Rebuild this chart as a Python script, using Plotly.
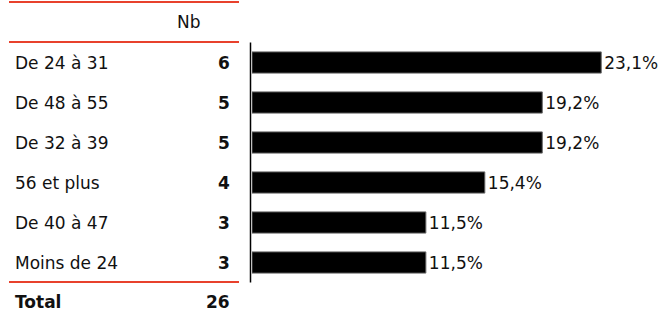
import plotly.graph_objects as go

categories = ["De 24 à 31", "De 48 à 55", "De 32 à 39", "56 et plus", "De 40 à 47", "Moins de 24"]
counts = [6, 5, 5, 4, 3, 3]
percents = [23.1, 19.2, 19.2, 15.4, 11.5, 11.5]
pct_labels = ["23,1%", "19,2%", "19,2%", "15,4%", "11,5%", "11,5%"]
total_label = "Total"
total_count = 26
header = "Nb"

W, H = 667, 316
FONT = "DejaVu Sans"
FS = 17
RED = "#e8412c"
INK = "#111111"

def py(p):  # pixel y -> paper y
    return 1 - p / H

def px(p):
    return p / W

top_px, bot_px = 42.5, 282.5
fig = go.Figure()
fig.add_trace(go.Bar(
    y=categories, x=percents, orientation="h",
    marker=dict(color="black", line=dict(color="#666666", width=1)),
    width=0.53,
    text=pct_labels, textposition="outside", cliponaxis=False,
    textfont=dict(family=FONT, size=FS, color=INK),
    hoverinfo="skip",
))

fig.update_layout(
    width=W, height=H, margin=dict(l=0, r=0, t=0, b=0),
    paper_bgcolor="white", plot_bgcolor="white", showlegend=False,
    xaxis=dict(domain=[px(252), 1], range=[0, 27.45], visible=False),
    yaxis=dict(domain=[py(bot_px), py(top_px)], categoryorder="array",
               categoryarray=categories[::-1], visible=False),
    uniformtext=dict(minsize=FS, mode="show"),
)

# axis line
fig.add_shape(type="line", xref="paper", yref="paper",
              x0=px(250.5), x1=px(250.5), y0=py(top_px), y1=py(bot_px),
              line=dict(color="black", width=1.5))
# red rules
for yy in [2, 42, 282]:
    fig.add_shape(type="line", xref="paper", yref="paper",
                  x0=px(9), x1=px(239), y0=py(yy), y1=py(yy),
                  line=dict(color=RED, width=2))

fig.add_annotation(x=px(189), y=py(22), xref="paper", yref="paper", text=header,
                   showarrow=False, xanchor="center", yanchor="middle",
                   font=dict(family=FONT, size=FS, color=INK))

for cat, n in zip(categories, counts):
    fig.add_annotation(x=px(13), y=cat, xref="paper", yref="y", text=cat,
                       showarrow=False, xanchor="left", yanchor="middle",
                       font=dict(family=FONT, size=FS, color=INK))
    fig.add_annotation(x=px(232), y=cat, xref="paper", yref="y", text=f"<b>{n}</b>",
                       showarrow=False, xanchor="right", yanchor="middle",
                       font=dict(family=FONT, size=FS, color=INK))

fig.add_annotation(x=px(13), y=py(302), xref="paper", yref="paper", text=f"<b>{total_label}</b>",
                   showarrow=False, xanchor="left", yanchor="middle",
                   font=dict(family=FONT, size=FS, color=INK))
fig.add_annotation(x=px(232), y=py(302), xref="paper", yref="paper", text=f"<b>{total_count}</b>",
                   showarrow=False, xanchor="right", yanchor="middle",
                   font=dict(family=FONT, size=FS, color=INK))

fig.write_html("out.html", config={"displayModeBar": False, "staticPlot": True},
               post_script="document.body.style.margin='0';document.body.style.overflow='hidden';")
